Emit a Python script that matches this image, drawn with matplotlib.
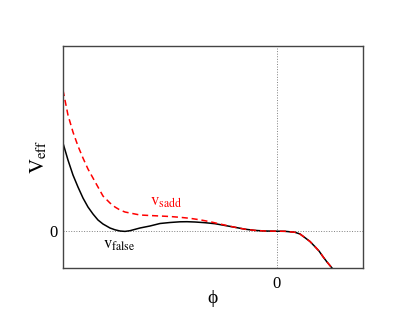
import matplotlib
matplotlib.use("Agg")
import matplotlib.pyplot as plt

plt.rcParams['mathtext.fontset'] = 'stix'
plt.rcParams['font.family'] = ['Liberation Serif', 'DejaVu Serif']

# curves
phi_false = [-2.14, -2.09, -2.04, -1.99, -1.94, -1.89, -1.84, -1.79, -1.74, -1.67,
             -1.62, -1.57, -1.52, -1.47, -1.37, -1.27, -1.17, -1.07, -0.97, -0.90,
             -0.82, -0.72, -0.62, -0.52, -0.42, -0.32, -0.22, -0.12, 0.0, 0.08,
             0.18, 0.23, 0.28, 0.33, 0.38, 0.42, 0.46, 0.50, 0.55]
v_false = [0.88, 0.71, 0.56, 0.44, 0.33, 0.24, 0.17, 0.11, 0.07, 0.03,
           0.012, 0.0, -0.004, 0.003, 0.03, 0.05, 0.075, 0.085, 0.092, 0.093,
           0.09, 0.083, 0.073, 0.055, 0.037, 0.018, 0.006, 0.0, -0.002, -0.003,
           -0.013, -0.03, -0.067, -0.105, -0.157, -0.20, -0.257, -0.31, -0.37]

phi_sadd = [-2.14, -2.09, -2.04, -1.99, -1.94, -1.89, -1.84, -1.79, -1.74, -1.67,
            -1.62, -1.57, -1.52, -1.47, -1.37, -1.27, -1.17, -1.07, -0.97, -0.87,
            -0.77, -0.67, -0.57, -0.49, -0.42, -0.32, -0.22, -0.12, 0.0, 0.08,
            0.18, 0.23, 0.28, 0.33, 0.38, 0.42, 0.46, 0.50, 0.55]
v_sadd = [1.41, 1.16, 0.99, 0.85, 0.73, 0.62, 0.53, 0.44, 0.35, 0.28,
          0.24, 0.21, 0.19, 0.18, 0.16, 0.155, 0.15, 0.145, 0.137, 0.127,
          0.112, 0.093, 0.07, 0.052, 0.037, 0.018, 0.006, 0.0, -0.002, -0.003,
          -0.013, -0.03, -0.067, -0.105, -0.157, -0.20, -0.257, -0.31, -0.37]

fig = plt.figure(figsize=(4.09, 3.16), dpi=100)
ax = fig.add_axes([0.154, 0.152, 0.7335, 0.702])

ax.axhline(0, color='grey', lw=0.7, ls=':')
ax.axvline(0, color='grey', lw=0.7, ls=':')

ax.plot(phi_false, v_false, color='black', lw=1.1)
ax.plot(phi_sadd, v_sadd, color='red', lw=1.1, ls=(0, (4, 2.5)))

ax.text(-1.27, 0.25, r'$\mathrm{v}_{\mathrm{sadd}}$', color='red', fontsize=12,
        ha='left', va='baseline')
ax.text(-1.74, -0.18, r'$\mathrm{v}_{\mathrm{false}}$', color='black', fontsize=12,
        ha='left', va='baseline')

ax.set_xlim(-2.14, 0.86)
ax.set_ylim(-0.37, 1.85)
ax.set_xticks([0])
ax.set_yticks([0])
ax.set_xticklabels(['0'], fontsize=12)
ax.set_yticklabels(['0'], fontsize=12)
ax.tick_params(axis='x', length=0, pad=6)
ax.tick_params(axis='y', length=0, pad=4)

ax.set_xlabel('ϕ', fontsize=14, labelpad=-2)
ax.set_ylabel(r'$\mathrm{V}_{\mathrm{eff}}$', fontsize=15)
ax.yaxis.set_label_coords(-0.047, 0.5)

for s in ax.spines.values():
    s.set_color('#444444')
    s.set_linewidth(1.0)

fig.savefig('out.png', dpi=100)
